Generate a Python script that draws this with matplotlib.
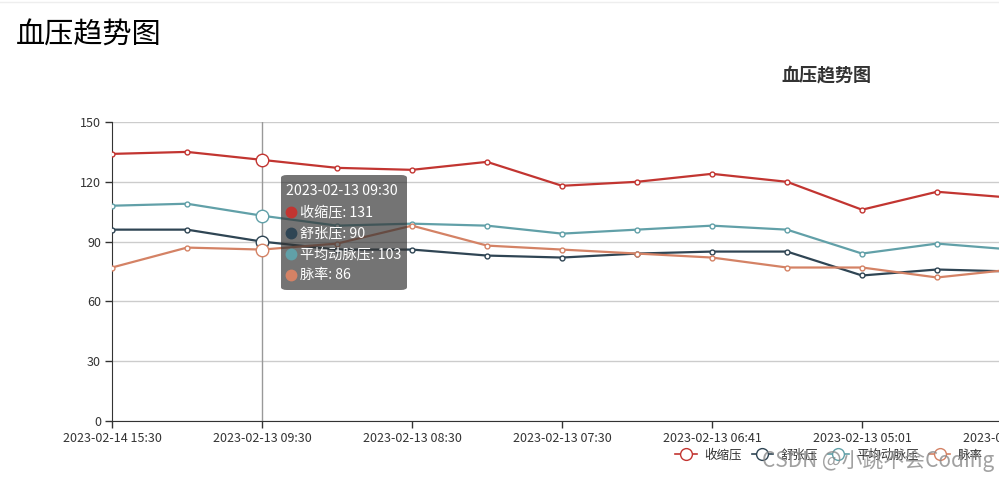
import matplotlib
matplotlib.use("Agg")
import matplotlib.pyplot as plt
from matplotlib.lines import Line2D
from matplotlib.patches import FancyBboxPatch

plt.rcParams['font.family'] = ['Noto Sans CJK SC', 'DejaVu Sans']

# data
times = ["2023-02-14 15:30", "2023-02-13 10:00", "2023-02-13 09:30", "2023-02-13 09:00",
         "2023-02-13 08:30", "2023-02-13 08:00", "2023-02-13 07:30", "2023-02-13 07:00",
         "2023-02-13 06:41", "2023-02-13 06:00", "2023-02-13 05:01", "2023-02-13 04:30",
         "2023-02-13 04:00"]
systolic = [134, 135, 131, 127, 126, 130, 118, 120, 124, 120, 106, 115, 112]
diastolic = [96, 96, 90, 86, 86, 83, 82, 84, 85, 85, 73, 76, 75]
mean_art = [108, 109, 103, 98, 99, 98, 94, 96, 98, 96, 84, 89, 86]
pulse = [77, 87, 86, 89, 98, 88, 86, 84, 82, 77, 77, 72, 76]

names = ["收缩压", "舒张压", "平均动脉压", "脉率"]
colors = ["#c23531", "#2f4554", "#61a0a8", "#d48265"]
series = [systolic, diastolic, mean_art, pulse]
hover = 2  # tooltip index

W, H = 999, 482
fig = plt.figure(figsize=(W / 100, H / 100), dpi=100)

def fx(x):
    return x / W

def fy(y):
    return 1 - y / H

# axes runs past the right edge like the reference (chart is clipped)
ax = fig.add_axes([fx(112), fy(421), 900 / W, 299 / H])
x = list(range(len(times)))

ax.set_ylim(0, 150)
ax.set_xlim(0, len(times) - 1)
ax.set_yticks(range(0, 151, 30))
ax.yaxis.grid(True, color="#cccccc", lw=1)
ax.set_axisbelow(True)
for s in ["top", "right"]:
    ax.spines[s].set_visible(False)
ax.spines["left"].set_color("#333333")
ax.spines["bottom"].set_color("#333333")
ax.tick_params(axis="y", colors="#333333", labelsize=9, length=5, width=1, pad=3)
ax.tick_params(axis="x", colors="#333333", labelsize=9, length=5, width=1, pad=3)
ax.set_xticks(x[::2])
ax.set_xticklabels(times[::2])

ax.axvline(hover, color="#999999", lw=1, zorder=1)

for vals, c in zip(series, colors):
    ax.plot(x, vals, color=c, lw=1.6, marker="o", markersize=3.5,
            markerfacecolor="white", markeredgecolor=c, markeredgewidth=1, zorder=3,
            clip_on=True)
    ax.plot(hover, vals[hover], marker="o", markersize=9, markerfacecolor="white",
            markeredgecolor=c, markeredgewidth=1, zorder=4)

# titles
fig.text(fx(16), fy(36), "血压趋势图", fontsize=21, color="#000000", ha="left", va="center")
fig.text(fx(826), fy(75), "血压趋势图", fontsize=13, color="#333333", fontweight="bold",
         ha="center", va="center")

# tooltip
box = FancyBboxPatch((fx(281), fy(290)), fx(407) - fx(281), fy(175) - fy(290),
                     boxstyle="round,pad=0,rounding_size=0.006", transform=fig.transFigure,
                     facecolor="#323232", alpha=0.68, edgecolor="none", zorder=10)
fig.add_artist(box)
fig.text(fx(286), fy(191), times[hover], fontsize=10.2, color="white", va="center", zorder=11)
for i, (n, vals, c) in enumerate(zip(names, series, colors)):
    yy = 212 + i * 21
    fig.add_artist(Line2D([fx(291)], [fy(yy)], marker="o", markersize=7.5, color=c,
                          transform=fig.transFigure, zorder=11))
    fig.text(fx(300), fy(yy), f"{n}: {vals[hover]}", fontsize=10.2, color="white",
             va="center", zorder=11)

# legend
handles = [Line2D([], [], color=c, lw=1.2, marker="o", markersize=8.5,
                  markerfacecolor="white", markeredgecolor=c) for c in colors]
fig.legend(handles, names, loc="center", bbox_to_anchor=(fx(829), fy(455)), ncol=4,
           frameon=False, fontsize=9, handlelength=1.7, handletextpad=0.6,
           columnspacing=0.8, labelcolor="#333333")

# watermark
fig.text(fx(878), fy(461), "CSDN @小跳不会Coding", fontsize=15, color="#8a8a8a",
         alpha=0.8, ha="center", va="center", zorder=12)

# faint line at top
fig.add_artist(Line2D([0, 1], [fy(1.5), fy(1.5)], color="#eeeeee", lw=1,
                      transform=fig.transFigure))

fig.savefig("out.png", dpi=100)
